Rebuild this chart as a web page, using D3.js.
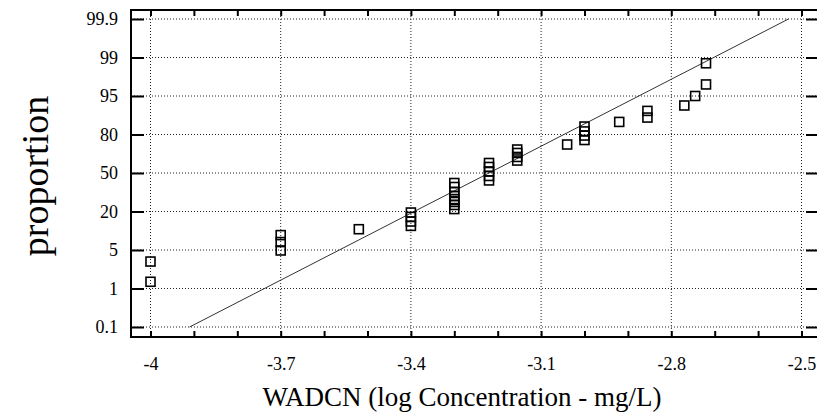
<!DOCTYPE html>
<html>
<head>
<meta charset="utf-8">
<script src="https://cdn.jsdelivr.net/npm/d3@7"></script>
<style>
  body { margin: 0; background: #fff; }
  text { font-family: "Liberation Serif", "Times New Roman", serif; fill: #000; }
</style>
</head>
<body>
<svg id="chart"></svg>
<script>
// probability axis labels (evenly spaced in the original plot)
const yTicks = [0.1, 1, 5, 20, 50, 80, 95, 99, 99.9];
const yTickLabels = ["0.1", "1", "5", "20", "50", "80", "95", "99", "99.9"];
const xTicks = [-4, -3.7, -3.4, -3.1, -2.8, -2.5];
const xMinorTicks = d3.range(0, 16).map(i => +(-4 + i * 0.1).toFixed(1));

// observations: log concentration and plotting position (%)
const logConc = [
  -4.00, -4.00,
  -3.70, -3.70, -3.70,
  -3.52,
  -3.40, -3.40, -3.40, -3.40,
  -3.30, -3.30, -3.30, -3.30, -3.30, -3.30, -3.30, -3.30,
  -3.22, -3.22, -3.22, -3.22, -3.22,
  -3.155, -3.155, -3.155, -3.155,
  -3.04,
  -3.00, -3.00, -3.00, -3.00,
  -2.92,
  -2.855, -2.855,
  -2.77, -2.745, -2.72, -2.72
];
const proportion = [
  3.8, 1.7,
  10.8, 8.1, 4.95,
  13.1,
  19.6, 17.9, 16.1, 14.4,
  42.2, 39.1, 35.2, 32.1, 29.7, 27.4, 25.1, 21.9,
  57.8, 54.7, 51.2, 47.7, 44.2,
  68.3, 65.6, 62.5, 59.7,
  72.2,
  83.1, 81.2, 79.2, 75.7,
  84.9,
  89.2, 86.6,
  91.3, 95.0, 96.2, 98.4
];
// fitted normal line end points
const fitX = [-3.91, -2.53];
const fitY = [0.1, 99.9];

const width = 817, height = 417;
const frame = { left: 131, right: 819, top: 10, bottom: 337 };

const svg = d3.select("#chart").attr("width", width).attr("height", height);

const x = d3.scaleLinear().domain([-4, -2.5]).range([150.5, 801.5]);
const y = d3.scaleLinear().domain(yTicks)
  .range(yTicks.map((d, i) => 327 - i * 38.5));

// grid
const grid = svg.append("g").attr("stroke", "#222").attr("stroke-width", 1)
  .attr("stroke-dasharray", "1,2");
grid.selectAll(".gx").data(xTicks).enter().append("line")
  .attr("x1", d => x(d)).attr("x2", d => x(d))
  .attr("y1", frame.top).attr("y2", frame.bottom);
grid.selectAll(".gy").data(yTicks).enter().append("line")
  .attr("x1", frame.left).attr("x2", frame.right)
  .attr("y1", d => y(d)).attr("y2", d => y(d));

// axes
const labelOf = d => yTickLabels[yTicks.indexOf(d)];
const left = svg.append("g").attr("transform", `translate(${frame.left},0)`)
  .call(d3.axisLeft(y).tickValues(yTicks).tickFormat(labelOf)
    .tickSizeInner(-13).tickSizeOuter(0).tickPadding(13));
svg.append("g").attr("transform", `translate(${frame.right},0)`)
  .call(d3.axisRight(y).tickValues(yTicks).tickFormat("")
    .tickSizeInner(-13).tickSizeOuter(0));
const bottom = svg.append("g").attr("transform", `translate(0,${frame.bottom})`)
  .call(d3.axisBottom(x).tickValues(xMinorTicks)
    .tickFormat(d => xTicks.some(t => Math.abs(t - d) < 1e-9) ? d3.format("")(d).replace("−", "-") : "")
    .tickSizeInner(-6).tickSizeOuter(0).tickPadding(20));
svg.append("g").attr("transform", `translate(0,${frame.top})`)
  .call(d3.axisTop(x).tickValues(xMinorTicks).tickFormat("")
    .tickSizeInner(-6).tickSizeOuter(0));

svg.selectAll(".domain").remove();
svg.selectAll(".tick line").attr("stroke", "#000").attr("stroke-width", 2);
left.selectAll("text").style("font-size", "18px");
bottom.selectAll("text").style("font-size", "18px");

// frame lines
const border = svg.append("g").attr("stroke", "#000").attr("stroke-width", 2);
border.append("line").attr("x1", frame.left).attr("x2", frame.left)
  .attr("y1", frame.top - 1).attr("y2", frame.bottom + 1);
border.append("line").attr("x1", frame.left).attr("x2", frame.right)
  .attr("y1", frame.top).attr("y2", frame.top);
border.append("line").attr("x1", frame.left).attr("x2", frame.right)
  .attr("y1", frame.bottom).attr("y2", frame.bottom);

// fitted line
svg.append("line")
  .attr("x1", x(fitX[0])).attr("y1", y(fitY[0]))
  .attr("x2", x(fitX[1])).attr("y2", y(fitY[1]))
  .attr("stroke", "#333").attr("stroke-width", 1);

// points
const s = 9;
svg.selectAll(".pt").data(logConc).enter().append("rect")
  .attr("class", "pt")
  .attr("x", d => x(d) - s / 2)
  .attr("y", (d, i) => y(proportion[i]) - s / 2)
  .attr("width", s).attr("height", s)
  .attr("fill", "none").attr("stroke", "#000").attr("stroke-width", 1.6);

// axis titles
svg.append("text")
  .attr("x", 462).attr("y", 406)
  .attr("text-anchor", "middle")
  .style("font-size", "27px")
  .text("WADCN (log Concentration - mg/L)");
svg.append("text")
  .attr("transform", "translate(48,176) rotate(-90)")
  .attr("text-anchor", "middle")
  .style("font-size", "38px")
  .text("proportion");
</script>
</body>
</html>
